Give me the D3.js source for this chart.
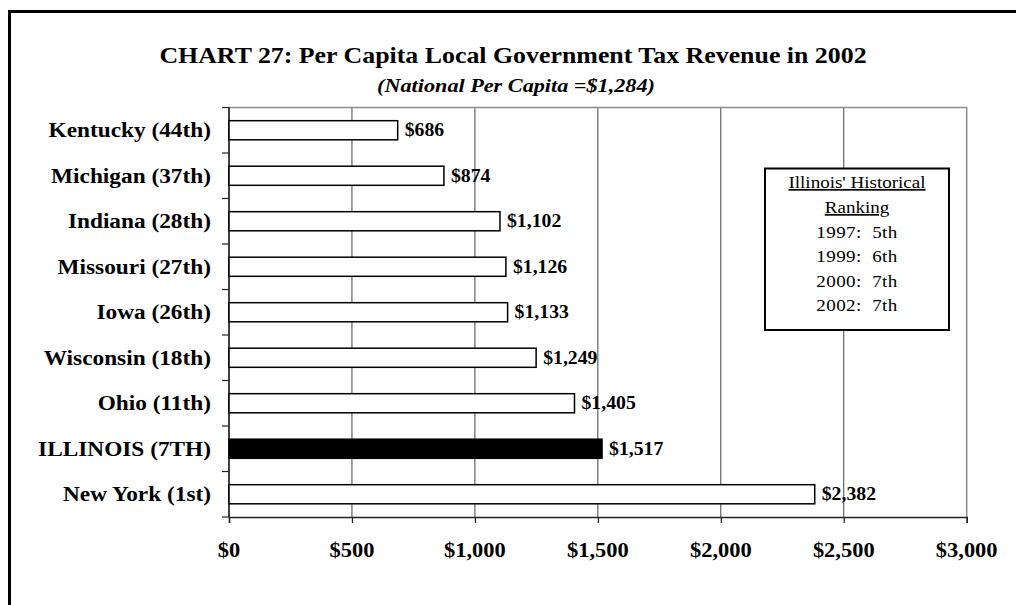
<!DOCTYPE html>
<html>
<head>
<meta charset="utf-8">
<script src="https://cdn.jsdelivr.net/npm/d3@7"></script>
<style>
  html, body { margin: 0; padding: 0; background: #fff; }
  svg { display: block; }
  text { font-family: "Liberation Serif", "Times New Roman", serif; fill: #000; }
</style>
</head>
<body>
<svg id="chart" width="1016" height="605"></svg>
<script>
// Per capita local government tax revenue, 2002
const categories = [
  "Kentucky (44th)", "Michigan (37th)", "Indiana (28th)", "Missouri (27th)",
  "Iowa (26th)", "Wisconsin (18th)", "Ohio (11th)", "ILLINOIS (7TH)", "New York (1st)"
];
const values = [686, 874, 1102, 1126, 1133, 1249, 1405, 1517, 2382];
const highlight = "ILLINOIS (7TH)";
const xTicks = [0, 500, 1000, 1500, 2000, 2500, 3000];
const rankingYears = ["1997", "1999", "2000", "2002"];
const rankings = ["5th", "6th", "7th", "7th"];

const svg = d3.select("#chart");
const W = 1016, H = 605;

const plot = { left: 229, right: 966.7, top: 107.5, bottom: 517 };

const x = d3.scaleLinear().domain([0, 3000]).range([plot.left, plot.right]);
const y = d3.scaleBand().domain(categories)
  .range([plot.top, plot.bottom])
  .paddingInner(0.58).paddingOuter(0.29);

const fmt = d3.format("$,");

// text helper: glyphs are drawn slightly wide (horizontal scale sx)
function label(sel, px, py, txt, opts) {
  const sx = opts.sx || 1.08;
  const t = sel.append("text")
    .attr("transform", `translate(${px},${py}) scale(${sx},1)`)
    .attr("text-anchor", opts.anchor || "start")
    .attr("font-size", opts.size)
    .attr("font-weight", opts.weight || "normal")
    .attr("font-style", opts.style || "normal")
    .text(txt);
  if (opts.underline) t.style("text-decoration", "underline");
  return t;
}

// background
svg.append("rect").attr("width", W).attr("height", H).attr("fill", "#fff");

// outer frame (top and left edges)
svg.append("path")
  .attr("d", `M9.5,${H} V11.5 H${W}`)
  .attr("fill", "none").attr("stroke", "#000").attr("stroke-width", 3);

// titles
label(svg, 513, 63, "CHART 27: Per Capita Local Government Tax Revenue in 2002",
  { anchor: "middle", size: 23, weight: "bold", sx: 1.125 });
label(svg, 516, 91.5, "(National Per Capita =$1,284)",
  { anchor: "middle", size: 19, weight: "bold", style: "italic", sx: 1.17 });

// vertical gridlines
svg.append("g").selectAll("line")
  .data(xTicks.filter(d => d > 0 && d < 3000))
  .join("line")
  .attr("x1", d => x(d)).attr("x2", d => x(d))
  .attr("y1", plot.top).attr("y2", plot.bottom)
  .attr("stroke", "#444").attr("stroke-width", 1);

// plot frame: top and right in grey
svg.append("path")
  .attr("d", `M${plot.left},${plot.top} H${plot.right} V${plot.bottom}`)
  .attr("fill", "none").attr("stroke", "#8c8c8c").attr("stroke-width", 1.5);

// x axis
const xAxis = d3.axisBottom(x).tickValues(xTicks).tickSize(6).tickFormat("");
const gx = svg.append("g").attr("transform", `translate(0,${plot.bottom})`).call(xAxis);
gx.select(".domain").attr("stroke", "#222").attr("stroke-width", 1.5);
gx.selectAll(".tick line").attr("stroke", "#222").attr("stroke-width", 1.2);
xTicks.forEach(v => {
  label(svg, x(v), 557, fmt(v), { anchor: "middle", size: 20.8, weight: "bold" });
});

// y axis with ticks at category boundaries
const step = y.step();
const boundaries = d3.range(categories.length + 1).map(i => plot.top + i * step);
svg.append("line")
  .attr("x1", plot.left).attr("x2", plot.left)
  .attr("y1", plot.top).attr("y2", plot.bottom)
  .attr("stroke", "#000").attr("stroke-width", 1.5);
svg.append("g").selectAll("line").data(boundaries).join("line")
  .attr("x1", plot.left - 7).attr("x2", plot.left)
  .attr("y1", d => d).attr("y2", d => d)
  .attr("stroke", "#222").attr("stroke-width", 1.2);

// category labels
categories.forEach(c => {
  label(svg, 211, y(c) + y.bandwidth() / 2 + 7, c,
    { anchor: "end", size: 22, weight: "bold", sx: 1.06 });
});

// legend box: historical ranking
const box = { x: 765, y: 168.5, w: 184, h: 161.5 };
svg.append("rect")
  .attr("x", box.x).attr("y", box.y).attr("width", box.w).attr("height", box.h)
  .attr("fill", "#fff").attr("stroke", "#000").attr("stroke-width", 2);
const cx = box.x + box.w / 2;
label(svg, cx, 188, "Illinois' Historical", { anchor: "middle", size: 17.3, sx: 1.1, underline: true });
label(svg, cx, 213, "Ranking", { anchor: "middle", size: 17.3, sx: 1.1, underline: true });
rankingYears.forEach((yr, i) => {
  label(svg, cx, 237.5 + i * 24.6, `${yr}:\u00a0 ${rankings[i]}`,
    { anchor: "middle", size: 17.3, sx: 1.1 }).attr("letter-spacing", 0.4);
});

// bars
const bars = categories.map((c, i) => ({ c, v: values[i] }));
svg.append("g").selectAll("rect").data(bars).join("rect")
  .attr("x", x(0))
  .attr("y", d => y(d.c))
  .attr("width", d => x(d.v) - x(0))
  .attr("height", y.bandwidth())
  .attr("fill", d => d.c === highlight ? "#000" : "#fff")
  .attr("stroke", "#000").attr("stroke-width", 1.5);

// value labels
bars.forEach(d => {
  label(svg, x(d.v) + 7, y(d.c) + y.bandwidth() / 2 + 6, fmt(d.v),
    { size: 18.3, weight: "bold" });
});
</script>
</body>
</html>
